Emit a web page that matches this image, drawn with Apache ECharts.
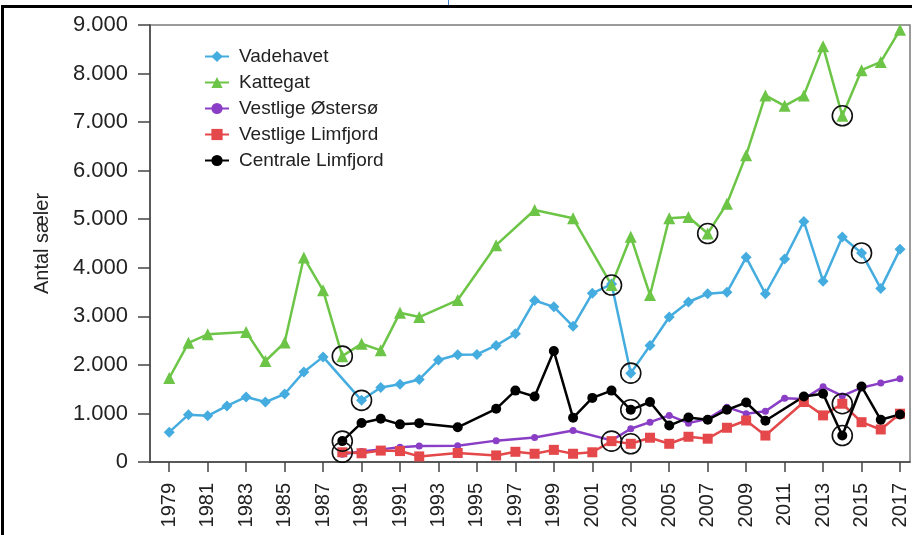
<!DOCTYPE html>
<html>
<head>
<meta charset="utf-8">
<script src="https://cdn.jsdelivr.net/npm/echarts@6/dist/echarts.min.js"></script>
<style>
  html, body { margin: 0; padding: 0; background: #fff; }
  #frame { position: absolute; left: 1px; top: 5px; width: 911px; height: 530px; border-top: 3px solid #000; border-left: 3px solid #000; box-sizing: border-box; }
  #blip { position: absolute; left: 448px; top: 0; width: 1px; height: 5px; background: #3a7fd0; }
  #chart { position: absolute; left: 0; top: 0; width: 912px; height: 535px; }
</style>
</head>
<body>
<div id="frame"></div>
<div id="blip"></div>
<div id="chart"></div>
<script>
// ---- data ----
const yTickValues = [0, 1000, 2000, 3000, 4000, 5000, 6000, 7000, 8000, 9000];
const xTickYears = [1979, 1981, 1983, 1985, 1987, 1989, 1991, 1993, 1995, 1997, 1999, 2001, 2003, 2005, 2007, 2009, 2011, 2013, 2015, 2017];

const vadehavetYears = [1979,1980,1981,1982,1983,1984,1985,1986,1987,1989,1990,1991,1992,1993,1994,1995,1996,1997,1998,1999,2000,2001,2002,2003,2004,2005,2006,2007,2008,2009,2010,2011,2012,2013,2014,2015,2016,2017];
const vadehavetValues = [615,975,950,1155,1340,1235,1400,1855,2165,1270,1535,1600,1700,2100,2210,2215,2400,2640,3325,3195,2795,3475,3665,1830,2400,2985,3295,3465,3495,4215,3465,4180,4955,3725,4635,4305,3575,4380];

const kattegatYears = [1979,1980,1981,1983,1984,1985,1986,1987,1988,1989,1990,1991,1992,1994,1996,1998,2000,2002,2003,2004,2005,2006,2007,2008,2009,2010,2011,2012,2013,2014,2015,2016,2017];
const kattegatValues = [1730,2455,2630,2675,2080,2460,4210,3535,2180,2435,2300,3075,2985,3335,4465,5190,5020,3645,4640,3440,5020,5045,4705,5320,6320,7550,7335,7550,8560,7130,8070,8240,8900];

const ostersoYears = [1988,1989,1990,1991,1992,1994,1996,1998,2000,2002,2003,2004,2005,2006,2007,2008,2009,2010,2011,2012,2013,2014,2015,2016,2017];
const ostersoValues = [160,215,260,305,330,335,440,505,650,445,685,820,960,800,890,1130,995,1045,1315,1300,1550,1360,1530,1625,1715];

const vLimfjordYears = [1988,1989,1990,1991,1992,1994,1996,1997,1998,1999,2000,2001,2002,2003,2004,2005,2006,2007,2008,2009,2010,2012,2013,2014,2015,2016,2017];
const vLimfjordValues = [200,180,235,225,115,185,135,210,170,250,170,200,430,375,500,375,520,480,705,855,545,1235,960,1200,820,670,995];

const cLimfjordYears = [1988,1989,1990,1991,1992,1994,1996,1997,1998,1999,2000,2001,2002,2003,2004,2005,2006,2007,2008,2009,2010,2012,2013,2014,2015,2016,2017];
const cLimfjordValues = [430,805,890,775,800,715,1095,1470,1350,2285,910,1320,1470,1075,1235,750,915,870,1075,1225,850,1350,1405,545,1555,870,980];

// circled observations: [series key, year]
const circled = [
  ['kattegat', 1988], ['vadehavet', 1989], ['cLimfjord', 1988], ['vLimfjord', 1988],
  ['kattegat', 2002], ['vadehavet', 2003], ['cLimfjord', 2003], ['vLimfjord', 2002], ['vLimfjord', 2003],
  ['kattegat', 2007], ['kattegat', 2014], ['vadehavet', 2015], ['vLimfjord', 2014], ['cLimfjord', 2014]
];

// ---- build ----
const seriesDefs = {
  vadehavet: { name: 'Vadehavet', years: vadehavetYears, values: vadehavetValues, color: '#45ace0', symbol: 'diamond', size: 11 },
  kattegat: { name: 'Kattegat', years: kattegatYears, values: kattegatValues, color: '#6cc546', symbol: 'triangle', size: 12 },
  osterso: { name: 'Vestlige Østersø', years: ostersoYears, values: ostersoValues, color: '#8a3ec6', symbol: 'circle', size: 7 },
  vLimfjord: { name: 'Vestlige Limfjord', years: vLimfjordYears, values: vLimfjordValues, color: '#e4484a', symbol: 'rect', size: 10 },
  cLimfjord: { name: 'Centrale Limfjord', years: cLimfjordYears, values: cLimfjordValues, color: '#000000', symbol: 'circle', size: 10 }
};
const order = ['vadehavet', 'kattegat', 'osterso', 'vLimfjord', 'cLimfjord'];
const font = "'Liberation Sans', Arial, Helvetica, sans-serif";

const series = order.map(k => {
  const d = seriesDefs[k];
  return {
    name: d.name, type: 'line',
    data: d.years.map((y, i) => [y, d.values[i]]),
    symbol: d.symbol, symbolSize: d.size, showSymbol: true,
    lineStyle: { color: d.color, width: 2.5 },
    itemStyle: { color: d.color },
    z: 3
  };
});
series.push({
  name: 'circled', type: 'scatter',
  data: circled.map(([k, y]) => {
    const d = seriesDefs[k];
    return [y, d.values[d.years.indexOf(y)]];
  }),
  symbol: 'circle', symbolSize: 20,
  itemStyle: { color: 'rgba(0,0,0,0)', borderColor: '#111', borderWidth: 1.6, opacity: 1 },
  emphasis: { disabled: true },
  z: 5, silent: true
});

const chart = echarts.init(document.getElementById('chart'));
chart.setOption({
  animation: false,
  textStyle: { fontFamily: font },
  grid: { left: 150, top: 25, right: 2, bottom: 73, show: true, borderColor: '#7a7a7a', borderWidth: 1.5 },
  legend: {
    data: order.map(k => seriesDefs[k].name),
    orient: 'vertical', left: 199, top: 42,
    itemWidth: 24, itemHeight: 14, itemGap: 7,
    textStyle: { fontSize: 19, color: '#222', fontFamily: font, padding: [0, 0, 0, 5] }
  },
  xAxis: {
    type: 'value', min: 1978, max: 2017.52,
    axisLine: { show: true, onZero: false, lineStyle: { color: '#444', width: 1.5 } },
    axisTick: { show: true, customValues: xTickYears, length: 10, lineStyle: { color: '#444', width: 1.5 } },
    axisLabel: { customValues: xTickYears, rotate: 90, margin: 21, fontSize: 20, color: '#222', fontFamily: font, formatter: v => String(v) },
    splitLine: { show: false }
  },
  yAxis: {
    type: 'value', min: 0, max: 9000, interval: 1000,
    name: 'Antal sæler', nameLocation: 'middle', nameGap: 98,
    nameTextStyle: { fontSize: 20, color: '#222', fontFamily: font },
    axisLine: { show: true, lineStyle: { color: '#444', width: 1.5 } },
    axisTick: { show: true, length: 12, lineStyle: { color: '#444', width: 1.5 } },
    axisLabel: { margin: 22, fontSize: 22, color: '#222', fontFamily: font,
      formatter: v => v === 0 ? '0' : String(v).replace(/\B(?=(\d{3})+(?!\d))/g, '.') },
    splitLine: { show: false }
  },
  series: series
});
</script>
</body>
</html>
